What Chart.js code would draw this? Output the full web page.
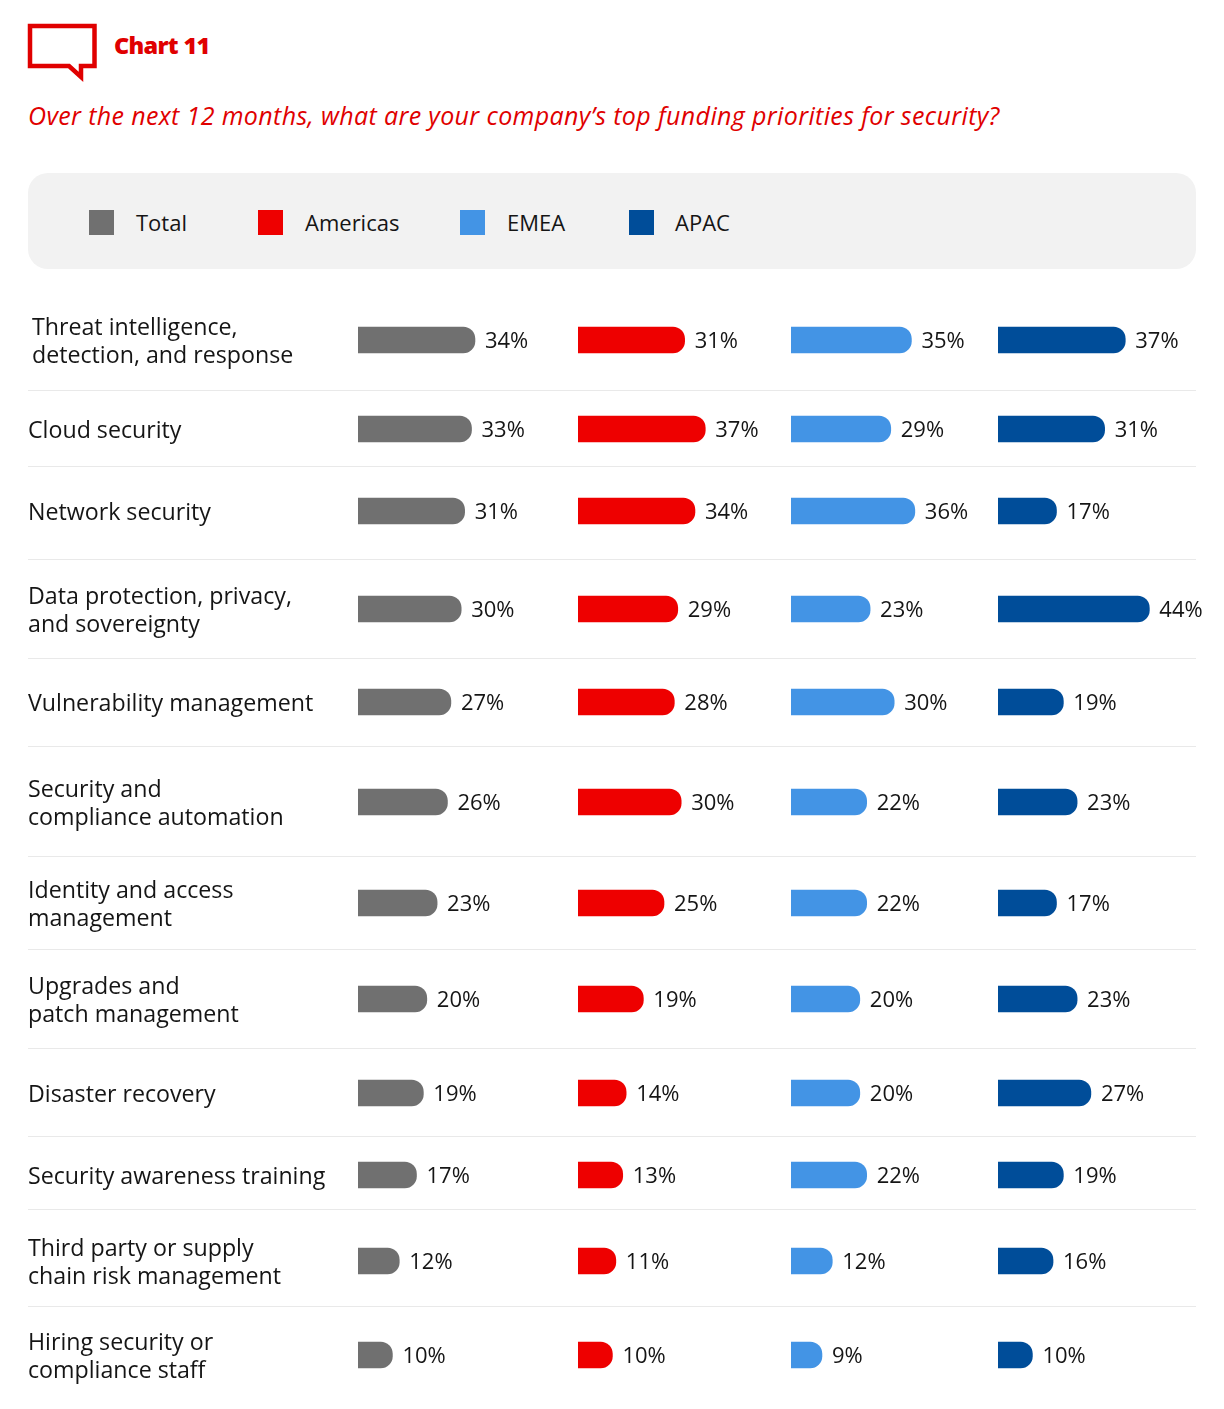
<!DOCTYPE html>
<html lang="en">
<head>
<meta charset="utf-8">
<title>Chart 11</title>
<script src="https://cdn.jsdelivr.net/npm/chart.js@4/dist/chart.umd.min.js"></script>
<style>
    html, body { margin: 0; padding: 0; background: #fff; }
    body { position: relative; width: 1224px; height: 1409px; overflow: hidden; font-family: 'Open Sans', sans-serif; color: #151515; }
    .icon { position: absolute; left: 0; top: 0; }
    .chart-title { position: absolute; left: 114px; top: 29px; font: 800 23.5px/32px 'Open Sans', sans-serif; letter-spacing: -0.7px; color: #e00000; }
    .question { position: absolute; left: 28px; top: 98px; font: italic 500 25px/34px 'Open Sans', sans-serif; letter-spacing: 0.36px; color: #e00000; white-space: nowrap; }
    .legend-box { position: absolute; left: 28px; top: 173px; width: 1168px; height: 96px; background: #f2f2f2; border-radius: 20px; }
    .legend-swatch { position: absolute; top: 210px; width: 25px; height: 25px; }
    .legend-label { position: absolute; top: 206px; font: 400 22px/32px 'Open Sans', sans-serif; }
    .separator { position: absolute; left: 28px; width: 1168px; height: 1px; background: #e9e9e9; }
    canvas { position: absolute; left: 28px; }
</style>
</head>
<body>
<svg class="icon" width="110" height="90">
    <path d="M30 26 H94.5 V66 H81 V77 L69 66 H30 Z" fill="none" stroke="#e00000" stroke-width="4.5"/>
</svg>
<div class="chart-title">Chart 11</div>
<div class="question">Over the next 12 months, what are your company’s top funding priorities for security?</div>
<div class="legend-box"></div>
<div id="legenda"></div>
<div id="linhas"></div>
<script>
// Data
const categorias = [
    ['Threat intelligence,', 'detection, and response'],
    'Cloud security',
    'Network security',
    ['Data protection, privacy,', 'and sovereignty'],
    'Vulnerability management',
    ['Security and', 'compliance automation'],
    ['Identity and access', 'management'],
    ['Upgrades and', 'patch management'],
    'Disaster recovery',
    'Security awareness training',
    ['Third party or supply', 'chain risk management'],
    ['Hiring security or', 'compliance staff']
];
const regioes = ['Total', 'Americas', 'EMEA', 'APAC'];
const total = [34, 33, 31, 30, 27, 26, 23, 20, 19, 17, 12, 10];
const americas = [31, 37, 34, 29, 28, 30, 25, 19, 14, 13, 11, 10];
const emea = [35, 29, 36, 23, 30, 22, 22, 20, 20, 22, 12, 9];
const apac = [37, 31, 17, 44, 19, 23, 17, 23, 27, 19, 16, 10];
const valores = [total, americas, emea, apac];

// Layout
const cores = ['#707070', '#ee0000', '#4394e5', '#004d99'];
const legendaSwatchX = [89, 258, 460, 629];
const legendaTextoX = [136, 305, 507, 675];
const centrosLinhas = [340, 429, 511, 609, 702, 802, 903, 999, 1093, 1175, 1261, 1355];
const recuoRotulos = [4, 0, 0, 0, 0, 0, 0, 0, 0, 0, 0, 0];
const separadores = [390, 466, 559, 658, 746, 856, 949, 1048, 1136, 1209, 1306];
const larguraColunas = [220, 213, 207, 226];
const pixelsPorPonto = 3.44;
const alturaLinha = 100;
const fonte = "'Open Sans', sans-serif";

// Nudges the row label to sit on the bar's centre line
const ajusteRotulos = {
    id: 'ajusteRotulos',
    beforeDraw(chart, args, opts) {
        chart.scales.y.getLabelItems().forEach(item => {
            item.options.translation[0] += opts.recuo;
            item.options.translation[1] += 2;
        });
    }
};

// Draws the percentage right after each bar
const rotulosValor = {
    id: 'rotulosValor',
    afterDatasetsDraw(chart) {
        const ctx = chart.ctx;
        ctx.save();
        ctx.font = `400 22px ${fonte}`;
        ctx.fillStyle = '#151515';
        ctx.textAlign = 'left';
        ctx.textBaseline = 'middle';
        chart.data.datasets.forEach((dataset, i) => {
            const barra = chart.getDatasetMeta(i).data[0];
            ctx.fillText(dataset.data[0] + '%', barra.x + 10, barra.y + 2);
        });
        ctx.restore();
    }
};

// Builds the HTML legend
function criarLegenda() {
    const container = document.getElementById('legenda');
    container.innerHTML = regioes.map((regiao, i) => `
        <div class="legend-swatch" style="left:${legendaSwatchX[i]}px;background:${cores[i]}"></div>
        <div class="legend-label" style="left:${legendaTextoX[i]}px">${regiao}</div>
    `).join('');
}

// One chart per row, with the four region axes side by side
function criarLinha(container, indice) {
    const canvas = document.createElement('canvas');
    canvas.width = 1196;
    canvas.height = alturaLinha;
    canvas.style.top = (centrosLinhas[indice] - alturaLinha / 2) + 'px';
    container.appendChild(canvas);

    const escalas = {
        y: {
            type: 'category',
            grid: { display: false },
            border: { display: false },
            afterFit: escala => { escala.width = 330; },
            ticks: {
                crossAlign: 'far',
                padding: 0,
                color: '#151515',
                font: { family: fonte, size: 23.2, weight: '400', lineHeight: 1.2 }
            }
        }
    };
    regioes.forEach((regiao, i) => {
        escalas['x' + i] = {
            type: 'linear',
            position: 'bottom',
            stack: 'regioes',
            stackWeight: larguraColunas[i],
            min: 0,
            max: larguraColunas[i] / pixelsPorPonto,
            display: false
        };
    });

    return new Chart(canvas, {
        type: 'bar',
        data: {
            labels: [categorias[indice]],
            datasets: regioes.map((regiao, i) => ({
                label: regiao,
                data: [valores[i][indice]],
                xAxisID: 'x' + i,
                yAxisID: 'y',
                backgroundColor: cores[i],
                barThickness: 26,
                grouped: false,
                borderSkipped: false,
                borderRadius: { topLeft: 0, bottomLeft: 0, topRight: 12, bottomRight: 12 }
            }))
        },
        options: {
            indexAxis: 'y',
            responsive: false,
            animation: false,
            events: [],
            layout: { padding: 0 },
            plugins: {
                legend: { display: false },
                tooltip: { enabled: false },
                ajusteRotulos: { recuo: recuoRotulos[indice] }
            },
            scales: escalas
        },
        plugins: [ajusteRotulos, rotulosValor]
    });
}

// Builds the rows and the separators
function criarLinhas() {
    const container = document.getElementById('linhas');
    separadores.forEach(y => {
        const linha = document.createElement('div');
        linha.className = 'separator';
        linha.style.top = y + 'px';
        container.appendChild(linha);
    });
    categorias.forEach((categoria, i) => criarLinha(container, i));
}

criarLegenda();
criarLinhas();
</script>
</body>
</html>
